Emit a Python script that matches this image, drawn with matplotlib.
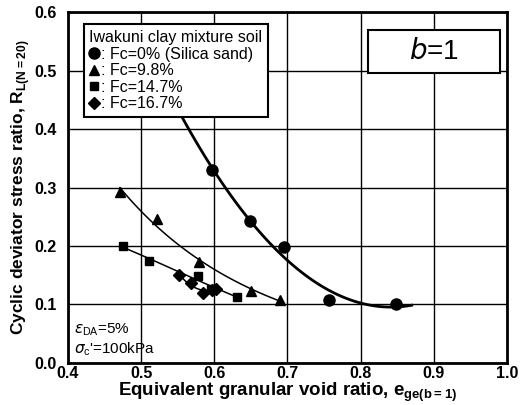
import numpy as np
import matplotlib.pyplot as plt
from matplotlib.lines import Line2D
from matplotlib.patches import Rectangle

plt.rcParams['font.family'] = ['Liberation Sans', 'DejaVu Sans']

# data
e_c = [0.597, 0.649, 0.695, 0.757, 0.849]
r_c = [0.330, 0.243, 0.198, 0.107, 0.100]
e_t = [0.471, 0.522, 0.579, 0.650, 0.690]
r_t = [0.292, 0.246, 0.173, 0.123, 0.108]
e_s = [0.475, 0.511, 0.578, 0.595, 0.631]
r_s = [0.200, 0.174, 0.149, 0.126, 0.113]
e_d = [0.552, 0.568, 0.585, 0.597, 0.603]
r_d = [0.150, 0.137, 0.120, 0.125, 0.126]

labels = [': Fc=0% (Silica sand)', ': Fc=9.8%', ': Fc=14.7%', ': Fc=16.7%']

fig = plt.figure(figsize=(5.23, 4.05), dpi=100)
ax = fig.add_axes([0.130, 0.104, 0.839, 0.866])

# trend curves
def trend(x, y, x0, x1, lw, log=True):
    yy = np.log(y) if log else np.array(y)
    p = np.polyfit(x, yy, 2)
    xx = np.linspace(x0, x1, 100)
    fit = np.polyval(p, xx)
    ax.plot(xx, np.exp(fit) if log else fit, color='black', lw=lw, zorder=3)

trend(e_c, r_c, 0.542, 0.87, 2.0, log=False)
trend(e_t, r_t, 0.471, 0.69, 1.1)
trend(e_s, r_s, 0.475, 0.631, 1.1)
trend(e_d, r_d, 0.552, 0.603, 1.1)

ax.plot(e_c, r_c, 'o', color='black', ms=8, zorder=4)
ax.plot(e_t, r_t, '^', color='black', ms=7, zorder=4)
ax.plot(e_s, r_s, 's', color='black', ms=6, zorder=4)
ax.plot(e_d, r_d, 'D', color='black', ms=6, zorder=4)

ax.set_xlim(0.4, 1.0)
ax.set_ylim(0.0, 0.6)
ax.set_xticks(np.arange(0.4, 1.01, 0.1))
ax.set_yticks(np.arange(0.0, 0.61, 0.1))
ax.set_xticklabels(['%.1f' % v for v in np.arange(0.4, 1.01, 0.1)], fontsize=11.5, fontweight='bold')
ax.set_yticklabels(['%.1f' % v for v in np.arange(0.0, 0.61, 0.1)], fontsize=11.5, fontweight='bold')
ax.tick_params(axis='y', length=0, pad=8)
ax.tick_params(axis='x', length=0, pad=2)
ax.grid(True, color='black', lw=1.0)
for s in ax.spines.values():
    s.set_linewidth(2)

ax.set_xlabel(r'Equivalent granular void ratio, e$_{\mathregular{ge(b=1)}}$', fontsize=13.5, fontweight='bold', labelpad=0)
ax.set_ylabel(r'Cyclic deviator stress ratio, R$_{\mathregular{L(N=20)}}$', fontsize=12.5, fontweight='bold', labelpad=2)

handles = [Line2D([], [], marker=m, color='black', ls='none', ms=sz)
           for m, sz in zip(['o', '^', 's', 'D'], [8, 7, 6, 6])]
leg = ax.legend(handles, labels, title='Iwakuni clay mixture soil', loc='upper left',
                bbox_to_anchor=(0.018, 0.988), fontsize=11.5, title_fontsize=11.5,
                handlelength=0.6, handletextpad=0.1, labelspacing=0.1,
                borderpad=0.35, fancybox=False, framealpha=1, edgecolor='black')
leg.get_frame().set_linewidth(1.5)
leg._legend_box.align = 'left'

ax.add_patch(Rectangle((0.683, 0.826), 0.301, 0.123, transform=ax.transAxes,
                       fc='white', ec='black', lw=1.5, zorder=5))
ax.text(0.834, 0.886, r'$\it{b}$=1', fontsize=20, ha='center', va='center',
        transform=ax.transAxes, zorder=6)
ax.text(0.408, 0.050, r'$\epsilon_{\mathregular{DA}}$=5%', fontsize=11)
ax.text(0.408, 0.016, r"$\sigma_{\mathregular{c}}$'=100kPa", fontsize=11)

fig.savefig('out.png', dpi=100)
